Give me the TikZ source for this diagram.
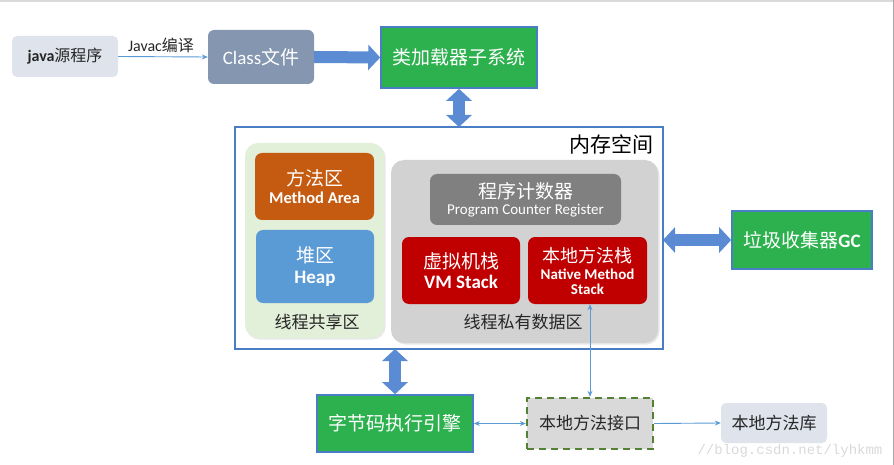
\documentclass[tikz,border=0pt]{standalone}
\usepackage{fontspec}
\setmainfont{Carlito}
\newfontfamily\cjk{Noto Sans CJK SC}
\newfontfamily\wmfont{Liberation Mono}
\usetikzlibrary{arrows.meta,shadows}
\newcommand{\zh}[1]{{\cjk #1}}
\newcommand{\fs}[1]{\fontsize{#1}{#1}\selectfont}
\definecolor{jvmblue}{HTML}{4A7EC4}
\definecolor{jvmarrow}{HTML}{5B8CD3}
\definecolor{jvmgreen}{HTML}{2DB14E}
\definecolor{jvmslate}{HTML}{8496B0}
\definecolor{jvmpale}{HTML}{DEE3EC}
\definecolor{jvmorange}{HTML}{C55A11}
\definecolor{jvmheap}{HTML}{5B9BD5}
\definecolor{jvmred}{HTML}{C00000}
\definecolor{jvmgrey}{HTML}{808080}
\definecolor{jvmshared}{HTML}{E2EFD9}
\definecolor{jvmprivate}{HTML}{D2D2D2}
\definecolor{jvmdash}{HTML}{548235}
\definecolor{jvmtext}{HTML}{262626}

\begin{document}
\begin{tikzpicture}[
    x=1pt, y=-1pt,
    pale/.style={rounded corners=5pt, fill=jvmpale, text=jvmtext, inner sep=0pt},
    solid box/.style={fill=#1, text=white, inner sep=0pt, rounded corners=7pt, align=center},
    greenbox/.style={fill=jvmgreen, draw=jvmblue, line width=1.6pt, text=white, inner sep=0pt},
    region/.style={fill=#1, rounded corners=13pt, inner sep=0pt,
      drop shadow={opacity=0.18, shadow xshift=1.5pt, shadow yshift=-1.5pt}},
    fat/.style={draw=jvmarrow, line width=12pt,
      {Triangle[width=25pt,length=12pt]}-{Triangle[width=25pt,length=12pt]}},
    fatone/.style={draw=jvmarrow, line width=12pt, -{Triangle[width=25pt,length=12pt]}},
    thin/.style={draw=jvmheap, line width=0.9pt, -{Stealth[length=6pt,width=5pt]}},
    thinboth/.style={draw=jvmheap, line width=0.9pt,
      {Stealth[length=6pt,width=5pt]}-{Stealth[length=6pt,width=5pt]}},
    lbl/.style={text=jvmtext, inner sep=0pt},
  ]
  \useasboundingbox (0,0) rectangle (894,465);
  % screenshot edges
  \draw[gray!30, line width=1.2pt] (0,1) -- (894,1);
  \draw[gray!70, line width=0.8pt] (893.4,0) -- (893.4,465);

  % ---- top row: source, class file, class loader
  \node[pale, minimum width=106, minimum height=41] (src) at (65,56.5)
    {\fs{16}{\bfseries java}\zh{源程序}};
  \node[solid box=jvmslate, rounded corners=6pt, minimum width=106, minimum height=54]
    (classfile) at (261,57) {\fs{19}Class\zh{文件}};
  \node[greenbox, minimum width=156, minimum height=61] (loader) at (459,57.5)
    {\fs{19}\zh{类加载器子系统}};

  % ---- memory space
  \draw[draw=jvmblue, line width=2pt] (235,127) rectangle (663,349);
  \coordinate (memN) at (459,127);
  \coordinate (memS) at (395,349);
  \coordinate (memE) at (663,240);
  \node[text=black, inner sep=0pt] (memlbl) at (611,144) {\fs{21}\zh{内存空间}};

  % shared area
  \node[region=jvmshared, minimum width=139, minimum height=195] (shared) at (314.5,240.5) {};
  \node[solid box=jvmorange, minimum width=119, minimum height=67] (marea) at (314.5,186.5)
    {\fs{19}\zh{方法区}\\[4pt]\fs{16.5}\bfseries Method Area};
  \node[solid box=jvmheap, minimum width=118, minimum height=73] (heap) at (315,266.5)
    {\fs{19}\zh{堆区}\\[6pt]\fs{19}\bfseries Heap};
  \node[lbl] (sharedlbl) at (317,322) {\fs{17}\zh{线程共享区}};

  % private area
  \node[region=jvmprivate, minimum width=267, minimum height=183] (private) at (524.5,251.5) {};
  \node[solid box=jvmgrey, minimum width=191, minimum height=51] (pcr) at (525.5,199.5)
    {\fs{19}\zh{程序计数器}\\[4pt]\fs{15}Program Counter Register};
  \node[solid box=jvmred, minimum width=118, minimum height=67] (vmstack) at (461,270.5)
    {\fs{19}\zh{虚拟机栈}\\[4pt]\fs{19}\bfseries VM Stack};
  \node[solid box=jvmred, minimum width=119, minimum height=67] (nstack) at (587.5,270.5)
    {\fs{18}\zh{本地方法栈}\\[4pt]\fs{15}\bfseries Native Method\\[3pt]\fs{15}\bfseries Stack};
  \node[lbl] (privatelbl) at (523,322) {\fs{17}\zh{线程私有数据区}};

  % ---- right and bottom blocks
  \node[greenbox, minimum width=140, minimum height=58] (gc) at (802,240)
    {\fs{19}\zh{垃圾收集器}\bfseries GC};
  \node[greenbox, minimum width=156, minimum height=57] (engine) at (395,423.5)
    {\fs{19}\zh{字节码执行引擎}};
  \node[fill=jvmprivate!85!white, draw=jvmdash, line width=2.4pt, dash pattern=on 7pt off 5pt,
    text=jvmtext, minimum width=126, minimum height=51, inner sep=0pt] (jni) at (590,423.5)
    {\fs{17}\zh{本地方法接口}};
  \node[pale, minimum width=106, minimum height=40] (nlib) at (774,423)
    {\fs{17}\zh{本地方法库}};
  \node[text=gray!30, inner sep=0pt] (mark) at (790,451) {\wmfont\fs{14}//blog.csdn.net/lyhkmm};

  % ---- connectors
  \draw[thin] (src.east) -- node[lbl, above=3pt, xshift=-2pt] {\fs{16}Javac\zh{编译}} (classfile.west);
  \draw[fatone] (classfile.east) -- (loader.west);
  \draw[fat] (loader.south) -- (memN);
  \draw[fat] (memE) -- (gc.west);
  \draw[fat] (memS) -- (engine.north);
  \draw[thinboth] (jni.north |- nstack.south) -- (jni.north);
  \draw[thinboth] (engine.east) -- (jni.west);
  \draw[thin] (jni.east) -- (nlib.west);
\end{tikzpicture}
\end{document}
